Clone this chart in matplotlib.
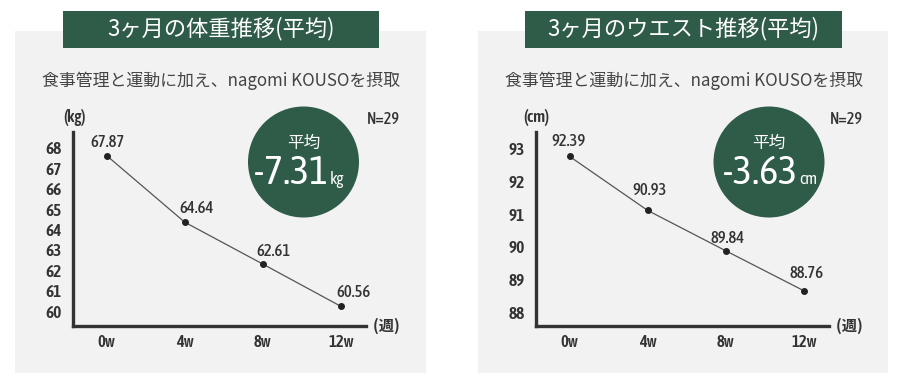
import matplotlib
matplotlib.use("Agg")
import matplotlib.pyplot as plt
from matplotlib.patches import Rectangle, Circle
from matplotlib import font_manager as fm

# ---------------- data ----------------
weeks = [0, 4, 8, 12]
week_labels = ["0w", "4w", "8w", "12w"]

weight_values = [67.87, 64.64, 62.61, 60.56]
weight_ticks = [60, 61, 62, 63, 64, 65, 66, 67, 68]
weight_title = "3ヶ月の体重推移(平均)"
weight_unit = "(kg)"
weight_avg = "-7.31"
weight_avg_unit = "kg"

waist_values = [92.39, 90.93, 89.84, 88.76]
waist_ticks = [88, 89, 90, 91, 92, 93]
waist_title = "3ヶ月のウエスト推移(平均)"
waist_unit = "(cm)"
waist_avg = "-3.63"
waist_avg_unit = "cm"

subtitle = "食事管理と運動に加え、nagomi KOUSOを摂取"
n_label = "N=29"
avg_label = "平均"
x_unit = "(週)"

# ---------------- style ----------------
W, H = 902, 386
GREEN = "#2f5b49"
BG = "#f2f2f2"
DARK = "#333333"
avail = {f.name for f in fm.fontManager.ttflist}
NUM = next((n for n in ["Asap Condensed", "Archivo Narrow", "Liberation Sans Narrow", "Roboto"]
            if n in avail), "DejaVu Sans")
CJK = ["Noto Sans CJK JP", "DejaVu Sans"]
NUMF = [NUM, "Noto Sans CJK JP", "DejaVu Sans"]

fig = plt.figure(figsize=(W / 100, H / 100), dpi=100)
fig.patch.set_facecolor("white")
T = fig.dpi_scale_trans


def P(x, y):
    return x / 100, (H - y) / 100


def rect(x0, y0, x1, y1, color):
    fig.patches.append(Rectangle(P(x0, y1), (x1 - x0) / 100, (y1 - y0) / 100,
                                 transform=T, facecolor=color, edgecolor="none", zorder=-2))


def ftext(x, y, s, **kw):
    fig.text(*P(x, y), s, transform=T, **kw)


panels = [
    dict(bg=(15, 426), box=(63, 379), ax=(73, 366), circ=(303.5, 162), num_r=328,
         title=weight_title, unit=weight_unit, vals=weight_values, ticks=weight_ticks,
         avg=weight_avg, avgu=weight_avg_unit, tick_lim=(59.28, 68.77), data_lim=(59.61, 69.01),
         n_x=383, unit_x=75,
         lbl_off=[(1, -13), (12, -14), (11, -13), (13, -14)]),
    dict(bg=(478, 888), box=(525, 842), ax=(536, 829), circ=(769, 162), num_r=797,
         title=waist_title, unit=waist_unit, vals=waist_values, ticks=waist_ticks,
         avg=waist_avg, avgu=waist_avg_unit, tick_lim=(87.58, 93.51), data_lim=(87.81, 93.05),
         n_x=846, unit_x=536,
         lbl_off=[(-1, -15), (2, -20), (2, -12), (3, -17)]),
]

for p in panels:
    rect(p["bg"][0], 31, p["bg"][1], 373, BG)
    rect(p["box"][0], 11, p["box"][1], 48, GREEN)
    cx = (p["box"][0] + p["box"][1]) / 2
    ftext(cx, 29, p["title"], ha="center", va="center", color="white",
          fontsize=16, family=CJK, fontweight="normal")
    ftext((p["bg"][0] + p["bg"][1]) / 2 + 1, 81, subtitle, ha="center", va="center",
          color="#444444", fontsize=12.2, family=CJK)
    ftext(p["n_x"], 119, n_label, ha="center", va="center", color=DARK,
          fontsize=11.5, family=NUMF, fontweight="medium")
    ftext(p["unit_x"], 118, p["unit"], ha="center", va="center", color=DARK,
          fontsize=12, family=NUMF, fontweight="semibold")

    # circle
    ccx, ccy = p["circ"]
    fig.patches.append(Circle(P(ccx, ccy), 0.555, transform=T, facecolor=GREEN,
                              edgecolor="none", zorder=-1))

    # axes
    x0, x1 = p["ax"]
    top, bot = 132, 326
    ax = fig.add_axes([x0 / W, 1 - bot / H, (x1 - x0) / W, (bot - top) / H])
    ax.set_facecolor("none")
    ax.set_xlim(-1.72, 13.28)
    ax.set_ylim(*p["tick_lim"])
    for s in ["top", "right"]:
        ax.spines[s].set_visible(False)
    for s in ["left", "bottom"]:
        ax.spines[s].set_linewidth(2.4)
        ax.spines[s].set_color(DARK)
    ax.set_yticks(p["ticks"])
    ax.set_yticklabels([str(t) for t in p["ticks"]], family=NUMF, fontsize=12.5,
                       color=DARK, fontweight="semibold")
    ax.set_xticks(weeks)
    ax.set_xticklabels(week_labels, family=NUMF, fontsize=12, color=DARK, fontweight="semibold")
    ax.tick_params(axis="y", length=0, pad=8)
    ax.tick_params(axis="x", length=0, pad=6)
    ax.text(1.0, 0.0, "  " + x_unit, transform=ax.transAxes, ha="left", va="center",
            family=CJK, fontsize=11, color=DARK, fontweight="bold")

    ax2 = ax.twinx()
    ax2.set_ylim(*p["data_lim"])
    ax2.set_xlim(-1.72, 13.28)
    ax2.axis("off")
    ax2.plot(weeks, p["vals"], color="#555555", lw=0.9, marker="o", ms=4,
             mfc="#222222", mec="#222222", zorder=3)
    for w, v, (dx, dy) in zip(weeks, p["vals"], p["lbl_off"]):
        ax2.annotate(f"{v:.2f}", (w, v), xytext=(dx * 0.72, -dy * 0.72),
                     textcoords="offset points", ha="center", va="center",
                     family=NUMF, fontsize=12, color=DARK, fontweight="medium")

    ftext(ccx, 143, avg_label, ha="center", va="center", color="white",
          fontsize=12, family=CJK, zorder=5)
    ftext(p["num_r"], 184, p["avg"], ha="right", va="baseline", color="white",
          fontsize=29, family=NUMF, zorder=5)
    ftext(p["num_r"] + 2, 184, p["avgu"], ha="left", va="baseline", color="white",
          fontsize=12, family=NUMF, zorder=5)

fig.savefig("out.png", dpi=100, facecolor="white")
